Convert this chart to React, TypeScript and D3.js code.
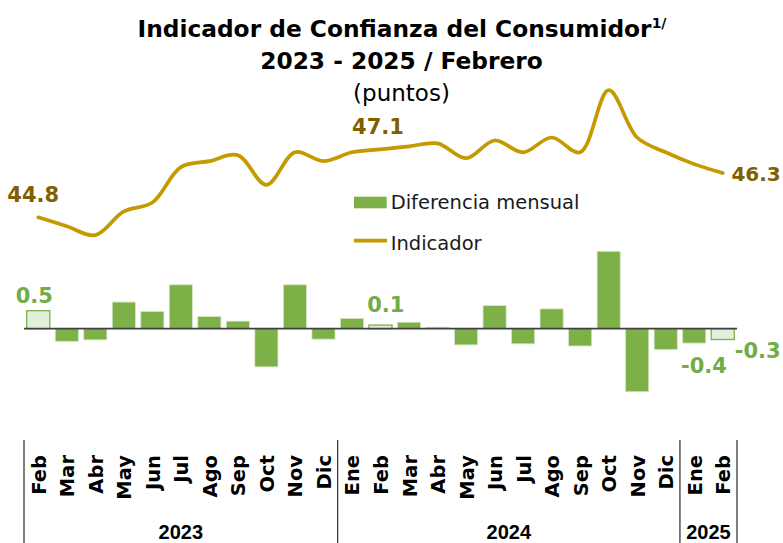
import * as d3 from "d3";

const months = [
  "Feb", "Mar", "Abr", "May", "Jun", "Jul", "Ago", "Sep", "Oct", "Nov", "Dic",
  "Ene", "Feb", "Mar", "Abr", "May", "Jun", "Jul", "Ago", "Sep", "Oct", "Nov", "Dic",
  "Ene", "Feb",
];
const years = ["2023", "2024", "2025"];
const yearStart = [0, 11, 23];
const yearEnd = [11, 23, 25];

// indicador (puntos)
const indicador = [
  44.8, 44.5, 44.2, 45.0, 45.3, 46.5, 46.7, 46.9, 45.9, 47.0, 46.7,
  47.0, 47.1, 47.2, 47.3, 46.8, 47.4, 47.0, 47.5, 47.0, 49.1, 47.5, 47.0,
  46.6, 46.3,
];
// diferencia mensual
const diferencia = [
  0.5, -0.35, -0.31, 0.74, 0.48, 1.22, 0.34, 0.21, -1.06, 1.22, -0.29,
  0.28, 0.1, 0.18, 0.04, -0.45, 0.64, -0.42, 0.55, -0.48, 2.15, -1.75, -0.58,
  -0.4, -0.3,
];
// barras resaltadas (mismo mes de cada año)
const highlighted = [0, 12, 24];
const lineLabels = [0, 12, 24];
const barLabels = [0, 12, 23, 24];

const GREEN = "#7db046";
const GREEN_TXT = "#70ad47";
const GOLD = "#c49a00";
const GOLD_TXT = "#7f6000";

export default function App() {
  const width = 783;
  const height = 543;
  const keys = months.map((m, i) => `${m}-${i}`);

  const x = d3.scaleBand().domain(keys).range([24, 737]).paddingInner(0.19).paddingOuter(0.095);
  const cx = (i: number) => (x(keys[i]) as number) + x.bandwidth() / 2;

  const yLine = d3.scaleLinear().domain([44, 50]).range([241, 63.6]);
  const yBar = d3.scaleLinear().domain([-2, 2.2]).range([400.7, 249.5]);

  const line = d3
    .line<number>()
    .x((_, i) => cx(i))
    .y((d) => yLine(d))
    .curve(d3.curveCatmullRom.alpha(0.5));

  const lineOffsets: Record<number, [number, number, string]> = {
    0: [-5, -15.6, "middle"],
    12: [-2.5, -15.3, "middle"],
    24: [58, 8, "end"],
  };
  const barOffsets: Record<number, [number, number]> = {
    0: [-4, 303.3],
    12: [5.3, 311.7],
    23: [9.7, 372.7],
    24: [35, 358.3],
  };

  const bold = "'DejaVu Sans', sans-serif";

  return (
    <svg
      width={width}
      height={height}
      style={{ position: "absolute", left: 0, top: 0, background: "#fff" }}
    >
      {/* titulo */}
      <text x={402} y={37.3} textAnchor="middle" fontFamily={bold} fontWeight="bold" fontSize={23.3} fill="#000">
        Indicador de Confianza del Consumidor
        <tspan fontSize={14} dy={-9}>1/</tspan>
      </text>
      <text x={401.5} y={69} textAnchor="middle" fontFamily={bold} fontWeight="bold" fontSize={23.3} fill="#000">
        2023 - 2025 / Febrero
      </text>
      <text x={401.5} y={101} textAnchor="middle" fontFamily={bold} fontSize={23} fill="#000">
        (puntos)
      </text>

      {/* barras */}
      {diferencia.map((d, i) => {
        const hl = highlighted.includes(i);
        const y0 = yBar(0);
        const y1 = yBar(d);
        return (
          <rect
            key={`b${i}`}
            x={x(keys[i])}
            width={x.bandwidth()}
            y={Math.min(y0, y1)}
            height={Math.abs(y1 - y0)}
            fill={hl ? "#e2efda" : GREEN}
            stroke={hl ? GREEN : "#d3e6c6"}
            strokeWidth={hl ? 1.3 : 0.8}
          />
        );
      })}
      <line x1={24} x2={737} y1={yBar(0)} y2={yBar(0)} stroke="#404040" strokeWidth={1.8} />

      {barLabels.map((i) => (
        <text
          key={`bl${i}`}
          x={cx(i) + barOffsets[i][0]}
          y={barOffsets[i][1]}
          textAnchor="middle"
          fontFamily={bold}
          fontWeight="bold"
          fontSize={21}
          fill={GREEN_TXT}
        >
          {diferencia[i].toFixed(1)}
        </text>
      ))}

      {/* linea */}
      <path d={line(indicador) ?? ""} fill="none" stroke={GOLD} strokeWidth={3.7} strokeLinecap="round" />
      {lineLabels.map((i) => (
        <text
          key={`ll${i}`}
          x={cx(i) + lineOffsets[i][0]}
          y={yLine(indicador[i]) + lineOffsets[i][1]}
          textAnchor={lineOffsets[i][2]}
          fontFamily={bold}
          fontWeight="bold"
          fontSize={i === 24 ? 20 : 21}
          fill={GOLD_TXT}
        >
          {indicador[i].toFixed(1)}
        </text>
      ))}

      {/* leyenda */}
      <rect x={354} y={196.7} width={32.7} height={11.6} fill={GREEN} />
      <text x={390.7} y={209.3} fontFamily={bold} fontSize={19.5} fill="#1a1a1a">
        Diferencia mensual
      </text>
      <line x1={354} x2={387} y1={240.7} y2={240.7} stroke={GOLD} strokeWidth={3.7} />
      <text x={390.7} y={250} fontFamily={bold} fontSize={19.5} fill="#1a1a1a">
        Indicador
      </text>

      {/* eje de meses */}
      {months.map((m, i) => (
        <text
          key={`m${i}`}
          transform={`translate(${cx(i) + 7.5},455) rotate(-90)`}
          textAnchor="end"
          fontFamily={bold}
          fontWeight="bold"
          fontSize={19.5}
          fill="#000"
        >
          {m}
        </text>
      ))}
      {[0, 11, 23, 25].map((k) => {
        const xx = k < 25 ? (x(keys[k]) as number) - x.step() * x.paddingInner() / 2 : 737;
        return <line key={`s${k}`} x1={xx} x2={xx} y1={440} y2={543} stroke="#000" strokeWidth={1} />;
      })}
      {years.map((yr, j) => {
        const a = cx(yearStart[j]) - x.step() / 2;
        const b = cx(yearEnd[j] - 1) + x.step() / 2;
        return (
          <text
            key={yr}
            x={(a + b) / 2}
            y={539}
            textAnchor="middle"
            fontFamily="'Liberation Sans', Arial, sans-serif"
            fontWeight="bold"
            fontSize={20}
            fill="#000"
          >
            {yr}
          </text>
        );
      })}
    </svg>
  );
}
